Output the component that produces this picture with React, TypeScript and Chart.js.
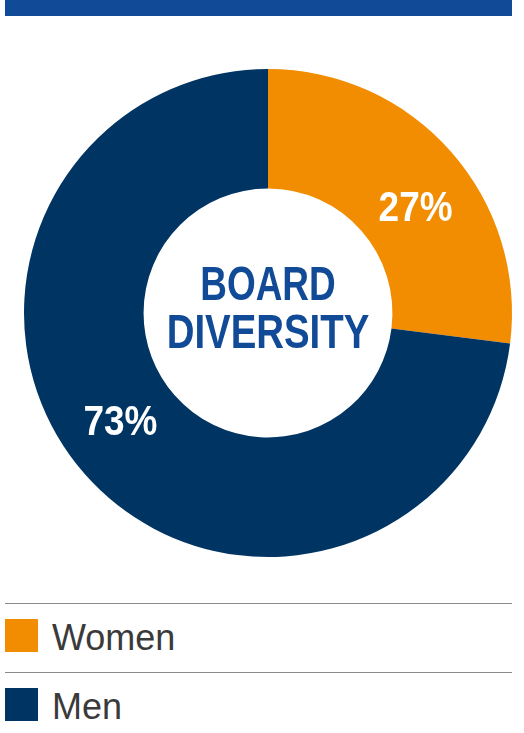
import React, { useEffect, useRef } from 'react';
import { Chart, registerables } from 'chart.js';

Chart.register(...registerables);

const categories = ['Women', 'Men'];
const shares = [27, 73];
const sliceColors = ['#f28c00', '#003462'];
const centerLines = ['BOARD', 'DIVERSITY'];

const labelFont = '"Liberation Sans", Arial, sans-serif';

// condensed text: squeeze horizontally around (x, y)
const drawNarrow = (ctx: CanvasRenderingContext2D, text: string, x: number, y: number, sx: number) => {
  ctx.save();
  ctx.translate(x, y);
  ctx.scale(sx, 1);
  ctx.fillText(text, 0, 0);
  ctx.restore();
};

// draws percentages on the slices and the title in the hole
const textPlugin = {
  id: 'boardText',
  afterDatasetsDraw(chart: any) {
    const { ctx } = chart;
    const meta = chart.getDatasetMeta(0);
    ctx.save();
    ctx.textAlign = 'center';
    ctx.textBaseline = 'alphabetic';
    meta.data.forEach((arc: any, i: number) => {
      const p = arc.getProps(['x', 'y', 'startAngle', 'endAngle', 'innerRadius', 'outerRadius'], true);
      const mid = (p.startAngle + p.endAngle) / 2 + (5.5 * Math.PI) / 180;
      const r = (p.innerRadius + p.outerRadius) / 2 - 2;
      ctx.fillStyle = '#ffffff';
      ctx.font = `bold 42px ${labelFont}`;
      drawNarrow(ctx, `${shares[i]}%`, p.x + Math.cos(mid) * r, p.y + Math.sin(mid) * r + 15, 0.88);
    });
    const first = meta.data[0];
    if (first) {
      ctx.fillStyle = '#114a96';
      ctx.font = `bold 48px ${labelFont}`;
      drawNarrow(ctx, centerLines[0], first.x, first.y - 13, 0.77);
      drawNarrow(ctx, centerLines[1], first.x, first.y + 35, 0.8);
    }
    ctx.restore();
  },
};

const App: React.FC = () => {
  const canvasRef = useRef<HTMLCanvasElement>(null);
  const chartRef = useRef<Chart | null>(null);

  useEffect(() => {
    document.body.style.margin = '0';
    if (!canvasRef.current) return;
    if (chartRef.current) chartRef.current.destroy();

    chartRef.current = new Chart(canvasRef.current, {
      type: 'doughnut',
      data: {
        labels: categories,
        datasets: [
          {
            data: shares,
            backgroundColor: sliceColors,
            borderWidth: 0,
          },
        ],
      },
      options: {
        animation: false,
        responsive: true,
        maintainAspectRatio: false,
        cutout: '51%',
        layout: { padding: { left: 24, right: 12, top: 69, bottom: 23 } },
        plugins: {
          legend: { display: false },
          tooltip: { enabled: false },
        },
      },
      plugins: [textPlugin],
    });

    return () => {
      if (chartRef.current) {
        chartRef.current.destroy();
        chartRef.current = null;
      }
    };
  }, []);

  return (
    <div style={{ position: 'relative', width: 524, height: 733, background: '#fff' }}>
      <div style={{ position: 'absolute', left: 5, top: 0, width: 507, height: 16, background: '#114a96' }} />
      <div style={{ position: 'absolute', left: 0, top: 0, width: 524, height: 580 }}>
        <canvas ref={canvasRef}></canvas>
      </div>
      {categories.map((name, i) => (
        <div
          key={name}
          style={{
            position: 'absolute',
            left: 5,
            top: 603 + i * 69,
            width: 507,
            height: 68,
            borderTop: '1px solid #8a8a8a',
          }}
        >
          <div
            style={{
              position: 'absolute',
              left: 0,
              top: 15,
              width: 33,
              height: 33,
              background: sliceColors[i],
            }}
          />
          <div
            style={{
              position: 'absolute',
              left: 47,
              top: 12,
              fontFamily: '"Liberation Sans", Arial, sans-serif',
              fontSize: 36,
              lineHeight: '44px',
              color: '#3a3a3a',
            }}
          >
            {name}
          </div>
        </div>
      ))}
    </div>
  );
};

export default App;
